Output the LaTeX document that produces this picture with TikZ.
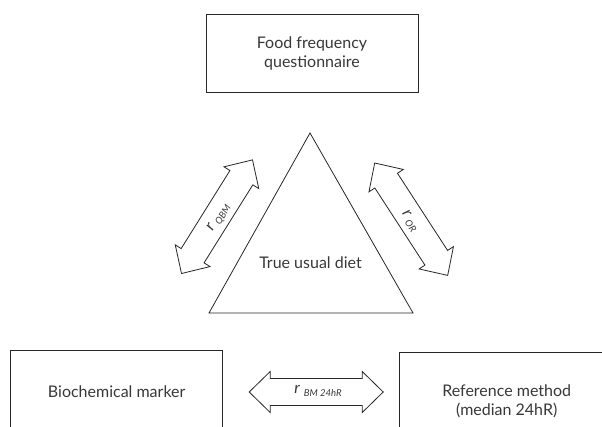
\documentclass[tikz,border=0pt]{standalone}
\usepackage{fontspec}
\setmainfont{Lato}
\begin{document}
\begin{tikzpicture}[x=1bp,y=1bp,
  line/.style={draw=black!85, line width=0.8bp, line join=miter},
  box/.style={line, fill=white, inner sep=0pt, outer sep=0pt},
  txt/.style={text=black!78, font=\fontsize{16bp}{19bp}\selectfont, align=center, inner sep=0pt},
  rlbl/.style={text=black!78, inner sep=0pt},
  pics/dblarrow/.style={code={
    \draw[line, fill=white] (-67,0) -- (-46,20.5) -- (-46,13.5) -- (46,13.5) -- (46,20.5)
      -- (67,0) -- (46,-20.5) -- (46,-13.5) -- (-46,-13.5) -- (-46,-20.5) -- cycle;}}]
\useasboundingbox (0,0) rectangle (602,426);
\clip (0,0) rectangle (602,426);
\newcommand{\rsub}[1]{{\fontsize{16bp}{16bp}\selectfont\itshape r}\hspace{4bp}\raisebox{-3bp}{\fontsize{9.5bp}{10bp}\selectfont\itshape #1}}

% top box
\node[box, minimum width=212bp, minimum height=78bp] (ffq) at (312,373) {};
\node[txt] (ffqt) at (312,373) {Food frequency\\questionnaire};

% triangle
\coordinate (apex) at (310,293);
\coordinate (bl) at (209,113);
\coordinate (br) at (413,113);
\draw[line] (apex) -- (bl) -- (br) -- cycle;
\node[txt] (diet) at (310.5,163) {True usual diet};

% bottom boxes
\node[box, minimum width=212bp, minimum height=84bp] (bm) at (116.7,33.3) {};
\node[txt] (bmt) at (116.7,34) {Biochemical marker};
\node[box, minimum width=215bp, minimum height=98bp] (ref) at (507,24.3) {};
\node[txt] (reft) at (506.7,24.5) {Reference method\\(median 24hR)};

% double arrows
\pic at (316.2,34) {dblarrow};
\node[rlbl] (rbm) at (318,35) {\rsub{BM 24hR}};

\pic[rotate=58] at (217,209.3) {dblarrow};
\node[rlbl, rotate=58] (rqbm) at (219,208) {\rsub{QBM}};

\pic[rotate=-57] at (411.2,206.8) {dblarrow};
\node[rlbl, rotate=-57] (ror) at (410,205) {\rsub{OR}};
\end{tikzpicture}
\end{document}
